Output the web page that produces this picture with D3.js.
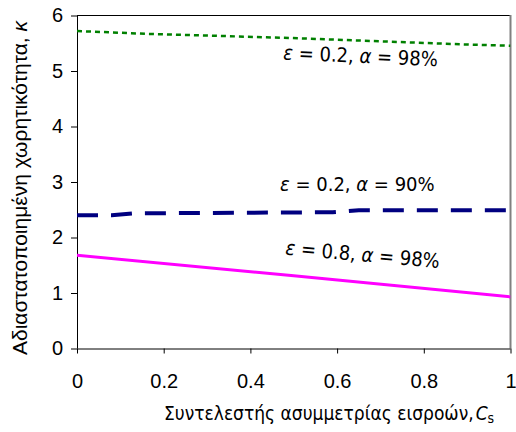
<!DOCTYPE html>
<html><head><meta charset="utf-8">
<script src="https://cdn.jsdelivr.net/npm/d3@7"></script>
<style>
html,body{margin:0;padding:0;background:#fff;}
svg{display:block;}
</style></head>
<body>
<svg id="chart" width="516" height="432"></svg>
<script>
// ---- data ----
const xTicks = [0, 0.2, 0.4, 0.6, 0.8, 1];
const yTicks = [0, 1, 2, 3, 4, 5, 6];
const xTickLabels = ["0", "0.2", "0.4", "0.6", "0.8", "1"];

const csGreen = [0, 0.16, 0.47, 0.58, 0.89, 1];
const kGreen  = [5.72, 5.67, 5.60, 5.57, 5.48, 5.455];

const csNavy = [0, 0.08, 0.13, 0.59, 0.65, 1];
const kNavy  = [2.40, 2.40, 2.435, 2.455, 2.49, 2.49];

const csMagenta = [0, 0.5, 1];
const kMagenta  = [1.68, 1.31, 0.93];

const seriesNames = ["ε = 0.2, α = 98%", "ε = 0.2, α = 90%", "ε = 0.8, α = 98%"];
const xTitle = "Συντελεστής ασυμμετρίας εισροών,";
const yTitle = "Αδιαστατοποιημένη χωρητικότητα, ";

// ---- layout ----
const svg = d3.select("#chart");
const L = 77, R = 510.5, T = 15.5, B = 348.5;
const x = d3.scaleLinear().domain([0, 1]).range([L, R]);
const y = d3.scaleLinear().domain([0, 6]).range([B, T]);

// frame (top black, right gray)
svg.append("line").attr("x1", L).attr("x2", R).attr("y1", T).attr("y2", T)
  .attr("stroke", "#000").attr("stroke-width", 1);
svg.append("line").attr("x1", R).attr("x2", R).attr("y1", T - 0.5).attr("y2", B)
  .attr("stroke", "#808080").attr("stroke-width", 2);

// axes
const tickFont = "'Liberation Sans', Arial, sans-serif";
const yAxis = svg.append("g").attr("transform", `translate(${L},0)`)
  .call(d3.axisLeft(y).tickValues(yTicks).tickFormat(d3.format("d")).tickSize(6).tickPadding(8));
const xAxis = svg.append("g").attr("transform", `translate(0,${B})`)
  .call(d3.axisBottom(x).tickValues(xTicks).tickFormat((d, i) => xTickLabels[i]).tickSize(5).tickPadding(20));
[yAxis, xAxis].forEach(g => {
  g.select(".domain").attr("stroke", "#000").attr("stroke-width", 1);
  g.selectAll(".tick line").attr("stroke", "#000");
  g.selectAll(".tick text").attr("fill", "#000").style("font-family", tickFont).style("font-size", "20px");
});
yAxis.select(".domain").attr("d", `M0.5,${T}V${B}`);
xAxis.select(".domain").attr("d", `M${L},0.5H${R}`);

// clip
svg.append("clipPath").attr("id", "clip").append("rect")
  .attr("x", L).attr("y", T).attr("width", R - L).attr("height", B - T);

const line = d3.line().x(d => x(d[0])).y(d => y(d[1]));
const plot = svg.append("g").attr("clip-path", "url(#clip)");

plot.append("path").datum(d3.zip(csMagenta, kMagenta)).attr("d", line)
  .attr("fill", "none").attr("stroke", "#ff00ff").attr("stroke-width", 3);
plot.append("path").datum(d3.zip(csNavy, kNavy)).attr("d", line)
  .attr("fill", "none").attr("stroke", "#000080").attr("stroke-width", 4)
  .attr("stroke-dasharray", "21,13");
plot.append("path").datum(d3.zip(csGreen, kGreen)).attr("d", line)
  .attr("fill", "none").attr("stroke", "#008000").attr("stroke-width", 2.5)
  .attr("stroke-dasharray", "5,4");

// series labels
const lblFont = "'DejaVu Sans Condensed', 'DejaVu Sans', Verdana, sans-serif";
const labelPos = [
  {x: 283, y: 59.5, rot: 2.5},
  {x: 280, y: 190.5, rot: 0},
  {x: 285, y: 254.5, rot: 5}
];
seriesNames.forEach((name, i) => {
  const p = labelPos[i];
  const t = svg.append("text")
    .attr("transform", `translate(${p.x},${p.y}) rotate(${p.rot})`)
    .style("font-family", lblFont).style("font-size", "20px").attr("fill", "#000")
    .style("white-space", "pre");
  const parts = name.split(/(ε|α)/).filter(s => s.length);
  parts.forEach(s => {
    const ts = t.append("tspan").text(s);
    if (s === "ε" || s === "α") ts.style("font-style", "italic");
  });
});

// axis titles
const xt = svg.append("text").attr("x", 164).attr("y", 420)
  .style("font-family", lblFont).style("font-size", "19px").attr("fill", "#000");
xt.append("tspan").text(xTitle);
xt.append("tspan").attr("dx", 2).style("font-style", "italic").text("C");
xt.append("tspan").attr("dy", 3).style("font-size", "14px").text("s");

const yt = svg.append("text")
  .attr("transform", `translate(27,188) rotate(-90)`)
  .attr("text-anchor", "middle")
  .style("font-family", tickFont).style("font-size", "21px").attr("fill", "#000")
  .style("white-space", "pre");
yt.append("tspan").text(yTitle);
yt.append("tspan").style("font-style", "italic").text("κ");
</script>
</body></html>
